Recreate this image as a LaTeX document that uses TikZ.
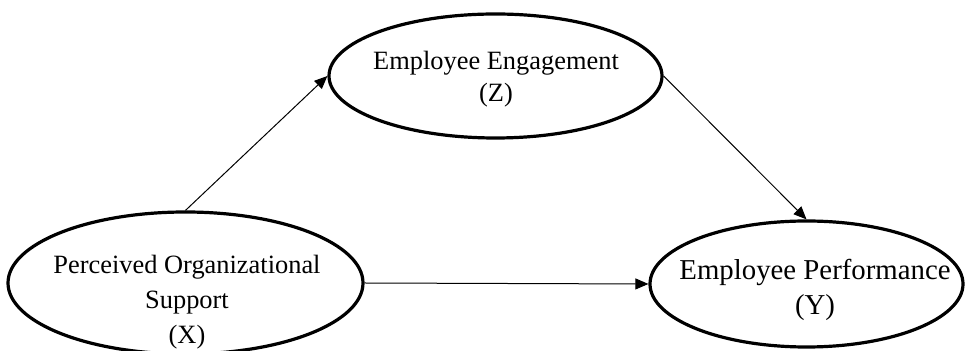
\documentclass[tikz,border=0pt]{standalone}
\usepackage{fontspec}
\setmainfont{Liberation Serif}
\usetikzlibrary{shapes.geometric,arrows.meta}
\begin{document}
\begin{tikzpicture}[x=0.5pt,y=-0.5pt,
  var/.style={ellipse, draw, line width=1.6pt, inner sep=0pt},
  txt/.style={align=center, inner sep=0pt, font=\fontsize{13.2}{17.5}\selectfont},
  effect/.style={-{Triangle[length=6.5pt,width=5.5pt]}, line width=0.5pt}]
\useasboundingbox (0,0) rectangle (969,351);
% variables
\node[var, minimum width=177.5pt, minimum height=71pt] (vX) at (185.5,283){};
\node[var, minimum width=166.5pt, minimum height=62pt] (vZ) at (495.5,76){};
\node[var, minimum width=156.5pt, minimum height=63pt] (vY) at (806.5,284){};
\node[txt] (tX) at (187,302){Perceived Organizational\\Support\\(X)};
\node[txt, font=\fontsize{13.2}{16}\selectfont] (tZ) at (496,79){Employee Engagement\\(Z)};
\node[txt, font=\fontsize{14.4}{17.5}\selectfont] (tY) at (815,290){Employee Performance\\(Y)};
% paths
\draw[effect] (vX.north) -- (vZ.west);
\draw[effect] (vZ.east) -- (vY.north);
\draw[effect] (vX.east) -- (vY.west);
\end{tikzpicture}
\end{document}
